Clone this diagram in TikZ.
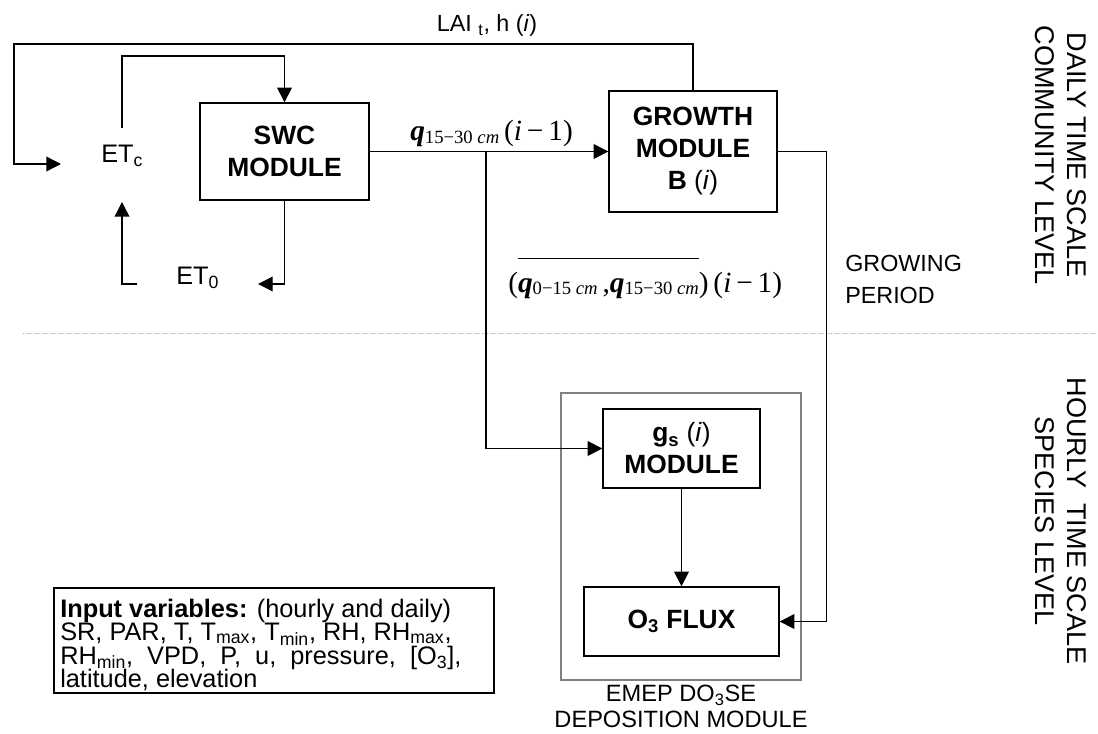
\documentclass[tikz,border=0pt]{standalone}
\usepackage{fontspec}
\setmainfont{Liberation Sans}
\newfontfamily\tms{Liberation Serif}
\usetikzlibrary{arrows.meta}
\newdimen\px \px=0.75pt
\newcommand\qsub[1]{{\bfseries\itshape q}\raisebox{-2pt}{\fontsize{14}{16}\selectfont #1 \textit{cm}}}
\begin{document}
\begin{tikzpicture}[x=0.75pt,y=-0.75pt,
  every node/.style={inner sep=0pt},
  modbox/.style={draw, line width=1pt, align=center, font=\fontsize{19.8}{24}\selectfont\bfseries},
  arr/.style={line width=1pt, -{Triangle[length=11pt,width=11pt]}},
  lbl/.style={font=\fontsize{17.5}{24}\selectfont},
  etlbl/.style={font=\fontsize{19}{24}\selectfont},
  inlbl/.style={anchor=base west, font=\fontsize{19}{17}\selectfont},
  sidelbl/.style={rotate=-90, align=center, font=\fontsize{20.3}{24}\selectfont},
]
\useasboundingbox (0,0) rectangle (1098,734);

% separator
\coordinate (sepL) at (23,333);
\coordinate (sepR) at (1098,333);
\draw[gray!60, line width=0.6pt, dash pattern=on 1pt off 1pt] (sepL) -- (sepR);

% EMEP container
\node[draw=gray, line width=1pt, minimum width=240\px, minimum height=287\px] (emep) at (681,536.5) {};
\node[anchor=north, align=center, font=\fontsize{17.7}{19.5}\selectfont] (emeplbl) at (681,685) {EMEP DO\textsubscript{3}SE\\DEPOSITION MODULE};

% modules
\node[modbox, minimum width=169\px, minimum height=97\px] (swc) at (284.5,151.5) {SWC\\MODULE};
\node[modbox, minimum width=168\px, minimum height=121\px] (growth) at (693,151.5) {GROWTH\\MODULE\\B {\mdseries(\textit{i})}};
\node[modbox, minimum width=157\px, minimum height=79\px] (gs) at (681.5,448.5) {g\textsubscript{s} {\mdseries(\textit{i})}\\MODULE};
\node[modbox, minimum width=195\px, minimum height=69\px] (o3) at (681.5,621.5) {O\textsubscript{3} FLUX};

% ET labels
\node[etlbl, anchor=base west] (etc) at (101,163) {ET\textsubscript{c}};
\node[etlbl, anchor=base west] (et0) at (176,284) {ET\textsubscript{0}};

% coordinates
\coordinate (etcin) at (61,164);
\coordinate (etctop) at (122,128);
\coordinate (etcbot) at (122,202);
\coordinate (et0r) at (258,284);
\coordinate (et0l) at (137,284);
\coordinate (br) at (486,151.5);
\coordinate (outer) at (14,44);
\coordinate (top2) at (284.5,56);

% connectors
\draw[arr] (growth.north) -- (growth.north |- outer) -- (outer) |- (etcin);
\draw[arr] (etctop) |- (top2) -- (swc.north);
\draw[arr] (swc.south) |- (et0r);
\draw[arr] (et0l) -| (etcbot);
\draw[arr] (swc.east) -- (growth.west);
\draw[arr] (br) |- (gs.west);
\draw[arr] (growth.east) -- ++(49,0) |- (o3.east);
\draw[arr] (gs.south) -- (o3.north);

% labels
\node[lbl, anchor=base] (lai) at (487,32) {LAI \textsubscript{t}, h (\textit{i})};
\node[anchor=base west] (qlbl) at (410,141) {\tms\fontsize{22}{24}\selectfont\qsub{15−30}\,(\textit{i}\,−\,1)};
\node[anchor=base west] (avg) at (508,292) {\tms\fontsize{22}{24}\selectfont ($\overline{\mbox{\rule{0pt}{24pt}\qsub{0−15}\,,\qsub{15−30}}}$)\,(\textit{i}\,−\,1)};
\node[lbl, anchor=west, align=left] (gp) at (845,279) {GROWING\\PERIOD};

\node[sidelbl] (daily) at (1061,155) {DAILY TIME SCALE\\COMMUNITY LEVEL};
\node[sidelbl] (hourly) at (1061,521) {HOURLY\ \ TIME SCALE\\SPECIES LEVEL};

% input variables
\node[draw, line width=1pt, minimum width=440\px, minimum height=105\px] (inbox) at (274,640.5) {};
\node[inlbl] (in1) at (60,617) {\textbf{Input variables:} (hourly and daily)};
\node[inlbl] (in2) at (60,640.5) {SR, PAR, T, T\textsubscript{max}, T\textsubscript{min}, RH, RH\textsubscript{max},};
\node[inlbl] (in3) at (60,664) {RH\textsubscript{min},\ \ VPD,\ \ P,\ \ u,\ \ pressure,\ \ [O\textsubscript{3}],};
\node[inlbl] (in4) at (60,687.5) {latitude, elevation};
\end{tikzpicture}
\end{document}
